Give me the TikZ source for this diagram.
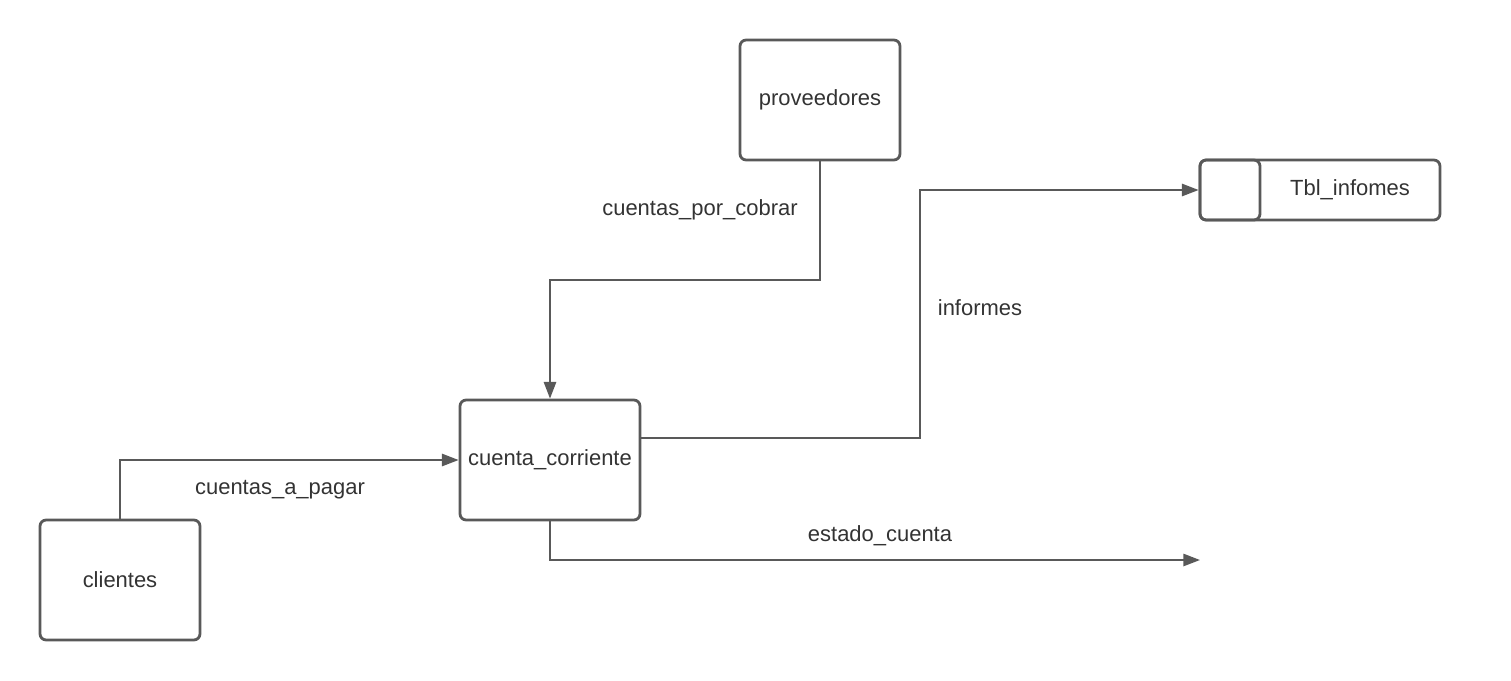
\documentclass[tikz,border=0pt]{standalone}
\usepackage{fontspec}
\setmainfont{Liberation Sans}
\usetikzlibrary{positioning}
\usetikzlibrary{calc}
\usetikzlibrary{arrows.meta}
\definecolor{linegray}{HTML}{595959}
\definecolor{textgray}{HTML}{333333}
\tikzset{
    entity/.style = {rectangle,draw=linegray,line width=1.6pt,rounded corners=3.5pt,
        minimum width=3.2cm,minimum height=2.4cm,inner sep=0pt,text=textgray,
        font=\fontsize{12.5}{15}\selectfont},
    store/.style = {entity,minimum width=4.8cm,minimum height=1.2cm},
    storecap/.style = {entity,minimum width=1.2cm,minimum height=1.2cm},
    flowlabel/.style = {text=textgray,font=\fontsize{12.5}{15}\selectfont},
    flow/.style = {draw=linegray,line width=1.1pt,-{Triangle[length=9.5pt,width=7pt]}}}
\begin{document}
\begin{tikzpicture}[x=0.02cm,y=-0.02cm]
        \useasboundingbox (0,0) rectangle (1511,680);
        \path (820,100) node[entity] (prov) {proveedores}
        (550,460) node[entity,minimum width=3.6cm] (cc) {cuenta\_corriente}
        (120,580) node[entity] (cli) {clientes}
        (1320,190) node[store] (tbl) {\hspace{1.2cm}Tbl\_infomes}
        (1230,190) node[storecap] (tblcap) {};
        \coordinate (ccout) at ($(cc.east) + (0,-22)$);
        \coordinate (sink) at (1200,560);
        \draw[flow] (prov.south) |- (550,280) -- (cc.north);
        \draw[flow] (cli.north) |- (cc.west);
        \draw[flow] (ccout) -| (920,190) -- (tbl.west);
        \draw[flow] (cc.south) |- (sink);
        \path (700,210) node[flowlabel] (lcob) {cuentas\_por\_cobrar}
        (280,490) node[flowlabel] (lpag) {cuentas\_a\_pagar}
        (980,308) node[flowlabel] (linf) {informes}
        (880,536) node[flowlabel] (lest) {estado\_cuenta};
    \end{tikzpicture}
\end{document}
